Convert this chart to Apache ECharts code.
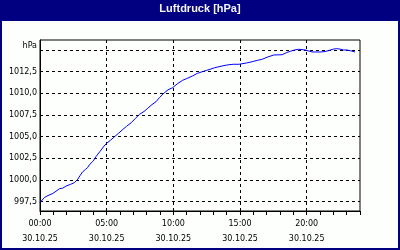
<!DOCTYPE html>
<html><head><meta charset="utf-8">
<script src="https://cdn.jsdelivr.net/npm/echarts@6/dist/echarts.min.js"></script>
<style>html,body{margin:0;padding:0;background:#000080}#c{width:400px;height:250px}</style>
</head><body><div id="c"></div>
<script>
// Time in hours since 30.10.25 00:00
const hours = [0.0,0.1,0.35,0.6,0.97,1.2,1.47,1.7,1.96,2.3,2.59,2.84,3.0,3.2,3.4,3.58,3.73,4.0,4.2,4.5,4.75,4.97,5.3,5.6,5.9,6.22,6.5,6.84,7.15,7.46,7.8,8.08,8.4,8.7,8.96,9.33,9.6,9.95,10.3,10.7,11.0,11.44,11.8,12.19,12.5,12.81,13.1,13.43,13.8,14.18,14.5,14.93,15.05,15.5,15.92,16.3,16.67,17.1,17.54,18.16,18.5,18.78,19.1,19.4,19.9,20.1,20.4,21.0,21.3,21.64,22.0,22.26,22.5,22.76,23.0,23.26,23.63];
const pressure = [997.4,997.5,998.0,998.2,998.45,998.7,999.0,999.05,999.3,999.5,999.7,1000.1,1000.5,1000.94,1001.2,1001.45,1001.8,1002.2,1002.7,1003.3,1003.8,1004.2,1004.6,1005.0,1005.4,1005.84,1006.2,1006.6,1007.1,1007.57,1007.9,1008.27,1008.7,1009.03,1009.5,1010.07,1010.4,1010.65,1011.1,1011.5,1011.7,1012.0,1012.3,1012.5,1012.65,1012.8,1012.95,1013.07,1013.2,1013.3,1013.35,1013.35,1013.4,1013.5,1013.65,1013.8,1013.93,1014.2,1014.42,1014.45,1014.7,1014.85,1015.0,1015.08,1015.0,1014.9,1014.77,1014.77,1014.8,1014.92,1015.1,1015.15,1015.1,1015.0,1015.0,1014.92,1014.77];
const yTicks = [997.5,1000,1002.5,1005,1007.5,1010,1012.5,1015];
const xLabelTicks = [0,5,10,15,20];
const xGridTicks = [5,10,15,20];
const xMinorTicks = [0,1,2,3,4,5,6,7,8,9,10,11,12,13,14,15,16,17,18,19,20,21,22,23,24];
const dateLabel = '30.10.25';
const titleText = 'Luftdruck [hPa]';
const unitLabel = 'hPa';

const data = hours.map((h,i)=>[h,pressure[i]]);
const font = 'DejaVu Sans';
const titleFont = 'Liberation Sans';
const chart = echarts.init(document.getElementById('c'), null, {renderer:'canvas'});
const pad = n => (n<10?'0':'')+n;
const dashed = {color:'#000', width:1, type:[3,3]};
chart.setOption({
  animation:false,
  backgroundColor:'#000080',
  title:{text:titleText, left:'center', top:3, padding:0,
    textStyle:{color:'#f4f4f4', fontFamily:titleFont, fontWeight:'bold', fontSize:11}},
  graphic:[{type:'rect', z:-10, shape:{x:2,y:21,width:396,height:227}, style:{fill:'#fcfffc'}, silent:true}],
  grid:{left:40, right:40, top:40, bottom:39, show:true, borderColor:'#000', borderWidth:1, backgroundColor:'transparent'},
  xAxis:[{
    type:'value', position:'bottom', min:0, max:24,
    axisLine:{show:true, lineStyle:{color:'#000', width:1}},
    axisTick:{show:true, inside:false, length:4, customValues:xMinorTicks, lineStyle:{color:'#000'}},
    axisLabel:{show:true, customValues:xLabelTicks, margin:6, color:'#000', fontFamily:font, fontSize:8, lineHeight:14.5,
      formatter:v=>pad(Math.round(v))+':00\n'+dateLabel},
    splitLine:{show:false}
  },{
    type:'value', position:'top', min:0, max:24,
    axisLine:{show:false},
    axisTick:{show:false, customValues:xGridTicks},
    axisLabel:{show:false},
    splitLine:{show:true, lineStyle:dashed}
  }],
  yAxis:[{
    type:'value', position:'left', min:996.42, max:1016.15,
    axisLine:{show:true, lineStyle:{color:'#000'}},
    axisTick:{show:false, customValues:yTicks},
    axisLabel:{show:true, customValues:yTicks, margin:3, color:'#000', fontFamily:font, fontSize:8,
      formatter:v=>Math.abs(v-1015)<1e-6?'{u|'+unitLabel+'}':v.toFixed(1).replace('.',','),
      rich:{u:{fontFamily:font, fontSize:8, color:'#000', padding:[0,0,9,0]}}},
    splitLine:{show:true, lineStyle:dashed}
  }],
  series:[{
    type:'line', data:data, xAxisIndex:0, yAxisIndex:0, showSymbol:false, symbol:'none',
    lineStyle:{color:'#0000ff', width:1}, z:5, clip:true
  }]
});
</script></body></html>
